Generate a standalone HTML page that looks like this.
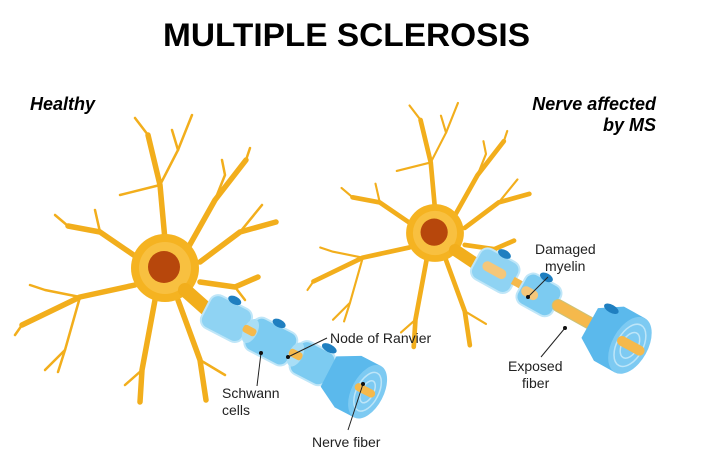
<!DOCTYPE html>
<html><head><meta charset="utf-8"><style>
html,body{margin:0;padding:0;background:#fff;}
svg{display:block;}
text{font-family:"Liberation Sans",sans-serif;}
</style></head><body>
<svg width="722" height="460" viewBox="0 0 722 460" xmlns="http://www.w3.org/2000/svg">
<defs>
<g id="neuron">
 <g fill="none" stroke="#f2ae1c" stroke-linecap="round" stroke-linejoin="round">
  <g stroke-width="5.5">
   <path d="M165 240 L160 185 L148 135"/>
   <path d="M188 248 L215 200 L246 160"/>
   <path d="M200 262 L240 232 L276 222"/>
   <path d="M138 258 L100 232 L68 226"/>
   <path d="M135 285 L80 297 L22 325"/>
   <path d="M155 300 L142 370 L140 402"/>
   <path d="M178 300 L200 360 L206 400"/>
   <path d="M200 282 L235 287 L258 277"/>
  </g>
  <g stroke-width="2.5">
   <path d="M160 185 L178 150 L192 115"/>
   <path d="M178 150 L172 130"/>
   <path d="M148 135 L135 118"/>
   <path d="M215 200 L225 175 L222 160"/>
   <path d="M246 160 L250 148"/>
   <path d="M240 232 L262 205"/>
   <path d="M100 232 L95 210"/>
   <path d="M68 226 L55 215"/>
   <path d="M80 297 L65 350 L58 372"/>
   <path d="M80 297 L45 290 L30 285"/>
   <path d="M22 325 L15 335"/>
   <path d="M65 350 L45 370"/>
   <path d="M142 370 L125 385"/>
   <path d="M200 360 L225 375"/>
   <path d="M160 185 L120 195"/>
   <path d="M235 287 L245 300"/>
  </g>
 </g>
 <circle cx="165" cy="268" r="34" fill="#f5b321"/>
 <circle cx="165" cy="268" r="26" fill="#f8c040"/>
 <circle cx="164" cy="267" r="16" fill="#b7470c"/>
</g>
</defs>

<text x="163" y="46" font-size="32" font-weight="bold" textLength="367" lengthAdjust="spacingAndGlyphs">MULTIPLE SCLEROSIS</text>
<text x="30" y="110" font-size="18" font-weight="bold" font-style="italic">Healthy</text>
<text x="656" y="110" font-size="18" font-weight="bold" font-style="italic" text-anchor="end">Nerve affected</text>
<text x="656" y="131" font-size="18" font-weight="bold" font-style="italic" text-anchor="end">by MS</text>

<use href="#neuron"/>
<path d="M185 290 L212 314" stroke="#f2ae1c" stroke-width="14" stroke-linecap="round"/>

<g transform="translate(435,233) scale(0.85) translate(-165,-268)"><use href="#neuron"/></g>
<path d="M455 250 L482 268" stroke="#f2ae1c" stroke-width="12" stroke-linecap="round"/>

<!-- left myelin -->
<g transform="translate(206,308) rotate(27.4)">
 <rect x="0" y="-18" width="46" height="36" rx="9" fill="#8fd3f3" stroke="#bfe6f8" stroke-width="2"/>
 <rect x="49" y="-18" width="48" height="36" rx="9" fill="#7ccbf1" stroke="#bfe6f8" stroke-width="2"/>
 <ellipse cx="50" cy="0" rx="7" ry="13" fill="#a9def6"/>
 <rect x="42" y="-4" width="14" height="8" rx="3" fill="#f5b94c"/>
 <rect x="100" y="-18" width="40" height="36" rx="9" fill="#7ccbf1" stroke="#bfe6f8" stroke-width="2"/>
 <ellipse cx="101" cy="0" rx="7" ry="13" fill="#a9def6"/>
 <rect x="94" y="-4" width="14" height="8" rx="3" fill="#f5b94c"/>
 <path d="M138 -17 L160 -29 L182 -29 L182 29 L160 29 L138 17 Z" fill="#5bb9ec"/>
 <ellipse cx="182" cy="0" rx="16" ry="29" fill="#7dcaf2"/>
 <ellipse cx="182" cy="0" rx="11" ry="21" fill="none" stroke="#bde5f8" stroke-width="1.5"/>
 <ellipse cx="182" cy="0" rx="6" ry="12" fill="none" stroke="#bde5f8" stroke-width="1.5"/>
 <rect x="168" y="-4" width="22" height="8" rx="4" fill="#f5b94c"/>
 <ellipse cx="22" cy="-20" rx="7" ry="4" fill="#1f7fc0"/>
 <ellipse cx="72" cy="-20" rx="7" ry="4" fill="#1f7fc0"/>
 <ellipse cx="128" cy="-21" rx="8" ry="4" fill="#1f7fc0"/>
</g>

<!-- right myelin -->
<g transform="translate(476,260) rotate(29)">
 <rect x="0" y="-17" width="44" height="34" rx="9" fill="#8fd3f3" stroke="#bfe6f8" stroke-width="2"/>
 <rect x="8" y="-5" width="26" height="10" rx="5" fill="#f5c77a"/>
 <rect x="42" y="-4" width="12" height="8" fill="#f5b94c"/>
 <rect x="52" y="-17" width="40" height="34" rx="9" fill="#7ccbf1" stroke="#bfe6f8" stroke-width="2"/>
 <rect x="54" y="-2" width="18" height="10" rx="5" fill="#f5c77a"/>
 <rect x="88" y="-6" width="48" height="12" rx="6" fill="#f5b94c" stroke="#c9c27a"/>
 <path d="M130 -17 L152 -31 L176 -31 L176 31 L152 31 L130 17 Z" fill="#5bb9ec"/>
 <ellipse cx="176" cy="0" rx="18" ry="31" fill="#7dcaf2"/>
 <ellipse cx="176" cy="0" rx="13" ry="23" fill="none" stroke="#bde5f8" stroke-width="1.5"/>
 <ellipse cx="176" cy="0" rx="8" ry="14" fill="none" stroke="#bde5f8" stroke-width="1.5"/>
 <rect x="162" y="-5" width="30" height="10" rx="5" fill="#f5b94c"/>
 <ellipse cx="22" cy="-19" rx="7" ry="4" fill="#1f7fc0"/>
 <ellipse cx="70" cy="-19" rx="7" ry="4" fill="#1f7fc0"/>
 <ellipse cx="142" cy="-23" rx="8" ry="4" fill="#1f7fc0"/>
</g>

<g stroke="#222" stroke-width="1" fill="none">
 <path d="M288 357 L327 338"/>
 <path d="M261 353 L257 386"/>
 <path d="M363 384 L348 430"/>
 <path d="M528 297 L548 277"/>
 <path d="M565 328 L541 357"/>
</g>
<g fill="#111">
 <circle cx="288" cy="357" r="2"/><circle cx="261" cy="353" r="2"/><circle cx="363" cy="384" r="2"/>
 <circle cx="528" cy="297" r="2"/><circle cx="565" cy="328" r="2"/>
</g>
<g font-size="14" fill="#222">
 <text x="330" y="343">Node of Ranvier</text>
 <text x="222" y="398">Schwann</text>
 <text x="222" y="415">cells</text>
 <text x="312" y="447">Nerve fiber</text>
 <text x="535" y="254">Damaged</text>
 <text x="545" y="271">myelin</text>
 <text x="508" y="371">Exposed</text>
 <text x="522" y="388">fiber</text>
</g>
</svg>
</body></html>
